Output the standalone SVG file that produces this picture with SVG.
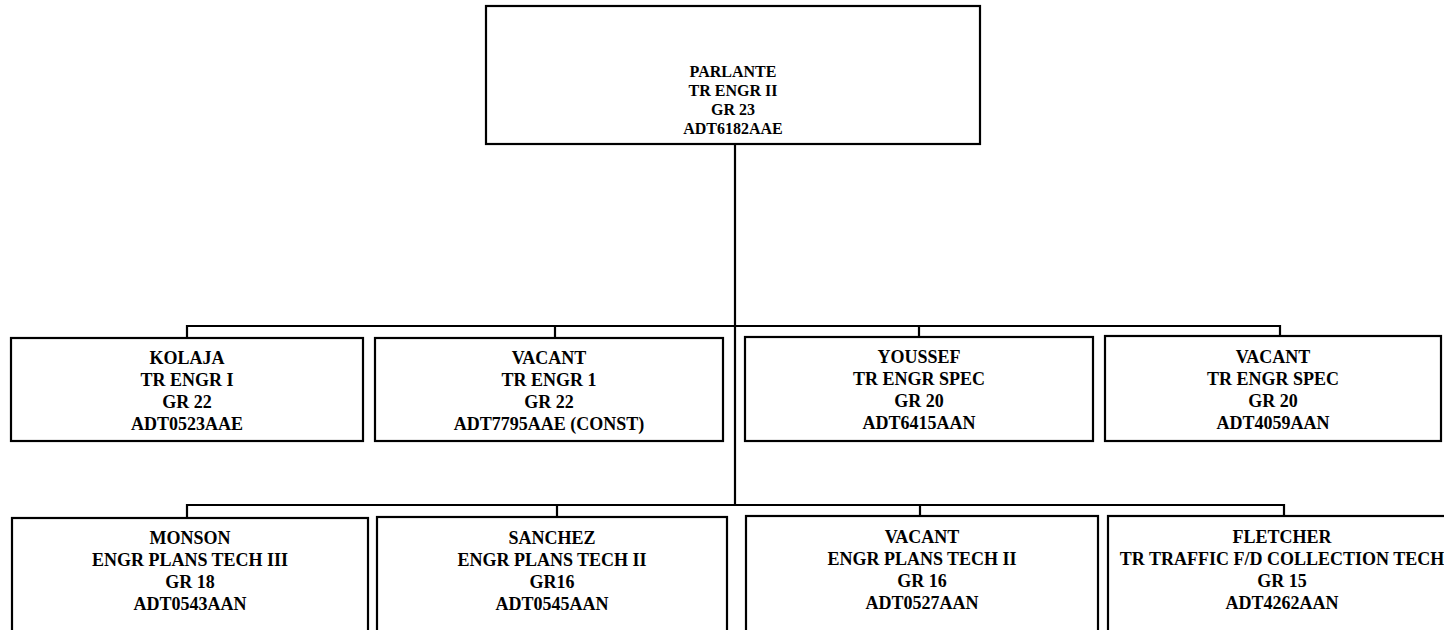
<svg xmlns="http://www.w3.org/2000/svg" width="1444" height="630" viewBox="0 0 1444 630">
<style>
.box{fill:#fff;stroke:#000;stroke-width:2.2}
.t{font-family:"Liberation Serif","Times New Roman",serif;font-weight:bold;font-size:18px;fill:#000;text-anchor:middle}
.tt{font-size:16px}
.c{fill:none;stroke:#000;stroke-width:2.2}
</style>
<rect width="1444" height="630" fill="#fff"/>
<g id="connectors">
<path class="c" d="M735 144V505"/>
<path class="c" d="M187 337V326H1280V337M555 326V337M919 326V337"/>
<path class="c" d="M187 518V505H1284V518M557 505V518M920 505V518"/>
</g>
<g id="parlante">
<rect class="box" x="486" y="6" width="494" height="138"/>
<text class="t tt"><tspan x="733" y="77">PARLANTE</tspan><tspan x="733" y="96">TR ENGR II</tspan><tspan x="733" y="115">GR 23</tspan><tspan x="733" y="134">ADT6182AAE</tspan></text>
</g>
<g id="kolaja">
<rect class="box" x="11" y="338" width="352" height="103"/>
<text class="t"><tspan x="187" y="364">KOLAJA</tspan><tspan x="187" y="386">TR ENGR I</tspan><tspan x="187" y="408">GR 22</tspan><tspan x="187" y="430">ADT0523AAE</tspan></text>
</g>
<g id="vacant1">
<rect class="box" x="375" y="338" width="348" height="103"/>
<text class="t"><tspan x="549" y="364">VACANT</tspan><tspan x="549" y="386">TR ENGR 1</tspan><tspan x="549" y="408">GR 22</tspan><tspan x="549" y="430">ADT7795AAE (CONST)</tspan></text>
</g>
<g id="youssef">
<rect class="box" x="745" y="337" width="348" height="104"/>
<text class="t"><tspan x="919" y="363">YOUSSEF</tspan><tspan x="919" y="385">TR ENGR SPEC</tspan><tspan x="919" y="407">GR 20</tspan><tspan x="919" y="429">ADT6415AAN</tspan></text>
</g>
<g id="vacant2">
<rect class="box" x="1105" y="336" width="336" height="105"/>
<text class="t"><tspan x="1273" y="363">VACANT</tspan><tspan x="1273" y="385">TR ENGR SPEC</tspan><tspan x="1273" y="407">GR 20</tspan><tspan x="1273" y="429">ADT4059AAN</tspan></text>
</g>
<g id="monson">
<rect class="box" x="12" y="518" width="356" height="130"/>
<text class="t"><tspan x="190" y="544">MONSON</tspan><tspan x="190" y="566">ENGR PLANS TECH III</tspan><tspan x="190" y="588">GR 18</tspan><tspan x="190" y="610">ADT0543AAN</tspan></text>
</g>
<g id="sanchez">
<rect class="box" x="377" y="517" width="350" height="130"/>
<text class="t"><tspan x="552" y="544">SANCHEZ</tspan><tspan x="552" y="566">ENGR PLANS TECH II</tspan><tspan x="552" y="588">GR16</tspan><tspan x="552" y="610">ADT0545AAN</tspan></text>
</g>
<g id="vacant3">
<rect class="box" x="746" y="516" width="352" height="130"/>
<text class="t"><tspan x="922" y="543">VACANT</tspan><tspan x="922" y="565">ENGR PLANS TECH II</tspan><tspan x="922" y="587">GR 16</tspan><tspan x="922" y="609">ADT0527AAN</tspan></text>
</g>
<g id="fletcher">
<rect class="box" x="1108" y="516" width="350" height="130"/>
<text class="t"><tspan x="1282" y="543">FLETCHER</tspan><tspan x="1282" y="565">TR TRAFFIC F/D COLLECTION TECH</tspan><tspan x="1282" y="587">GR 15</tspan><tspan x="1282" y="609">ADT4262AAN</tspan></text>
</g>
</svg>
